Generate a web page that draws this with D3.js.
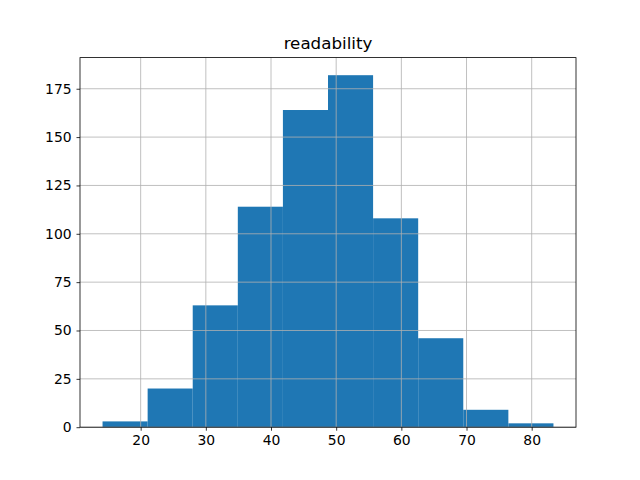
<!DOCTYPE html>
<html>
<head>
<script src="https://cdn.jsdelivr.net/npm/d3@7"></script>
<style>
  body { margin: 0; background: #fff; }
  text { font-family: "DejaVu Sans", sans-serif; }
</style>
</head>
<body>
<script>
// histogram of readability, 10 bins
var binStart = 14.15;
var binEnd = 83.34;
var counts = [3, 20, 63, 114, 164, 182, 108, 46, 9, 2];
var xTicks = [20, 30, 40, 50, 60, 70, 80];
var yTicks = [0, 25, 50, 75, 100, 125, 150, 175];
var title = "readability";

var width = 640, height = 480;
var plotL = 80, plotR = 576, plotT = 57.6, plotB = 427.2;

var binW = (binEnd - binStart) / counts.length;
var bins = counts.map(function(c, i) {
  return { x0: binStart + i * binW, x1: binStart + (i + 1) * binW, n: c };
});

var span = binEnd - binStart;
var x = d3.scaleLinear()
  .domain([binStart - 0.05 * span, binEnd + 0.05 * span])
  .range([plotL, plotR]);
var y = d3.scaleLinear()
  .domain([0, d3.max(counts) * 1.05])
  .range([plotB, plotT]);

var svg = d3.select('body').append('svg')
  .attr('width', width)
  .attr('height', height);

svg.selectAll('rect.bar')
  .data(bins)
  .enter().append('rect')
  .attr('class', 'bar')
  .attr('x', function(d) { return x(d.x0); })
  .attr('width', function(d) { return x(d.x1) - x(d.x0); })
  .attr('y', function(d) { return y(d.n); })
  .attr('height', function(d) { return plotB - y(d.n); })
  .attr('fill', '#1f77b4');

// grid on top of bars, like pandas does
var grid = svg.append('g')
  .attr('stroke', '#b0b0b0')
  .attr('stroke-width', 0.8);
grid.selectAll('line.gx')
  .data(xTicks)
  .enter().append('line')
  .attr('class', 'gx')
  .attr('x1', function(d) { return x(d); })
  .attr('x2', function(d) { return x(d); })
  .attr('y1', plotT)
  .attr('y2', plotB);
grid.selectAll('line.gy')
  .data(yTicks)
  .enter().append('line')
  .attr('class', 'gy')
  .attr('y1', function(d) { return y(d); })
  .attr('y2', function(d) { return y(d); })
  .attr('x1', plotL)
  .attr('x2', plotR);

var xAxis = d3.axisBottom(x).tickValues(xTicks).tickSize(3.5).tickPadding(4.9);
var yAxis = d3.axisLeft(y).tickValues(yTicks).tickSize(3.5).tickPadding(4.9);

var gx = svg.append('g')
  .attr('transform', 'translate(0,' + plotB + ')')
  .call(xAxis);
var gy = svg.append('g')
  .attr('transform', 'translate(' + plotL + ',0)')
  .call(yAxis);

[gx, gy].forEach(function(g) {
  g.select('.domain').remove();
  g.selectAll('.tick line').attr('stroke', '#000').attr('stroke-width', 0.8);
  g.selectAll('.tick text')
    .attr('fill', '#000')
    .style('font-size', '13.9px')
    .style('font-family', '"DejaVu Sans", sans-serif');
});

svg.append('rect')
  .attr('x', plotL)
  .attr('y', plotT)
  .attr('width', plotR - plotL)
  .attr('height', plotB - plotT)
  .attr('fill', 'none')
  .attr('stroke', '#000')
  .attr('stroke-width', 0.8);

svg.append('text')
  .attr('x', (plotL + plotR) / 2)
  .attr('y', plotT - 8.3)
  .attr('text-anchor', 'middle')
  .style('font-size', '16.7px')
  .text(title);
</script>
</body>
</html>
